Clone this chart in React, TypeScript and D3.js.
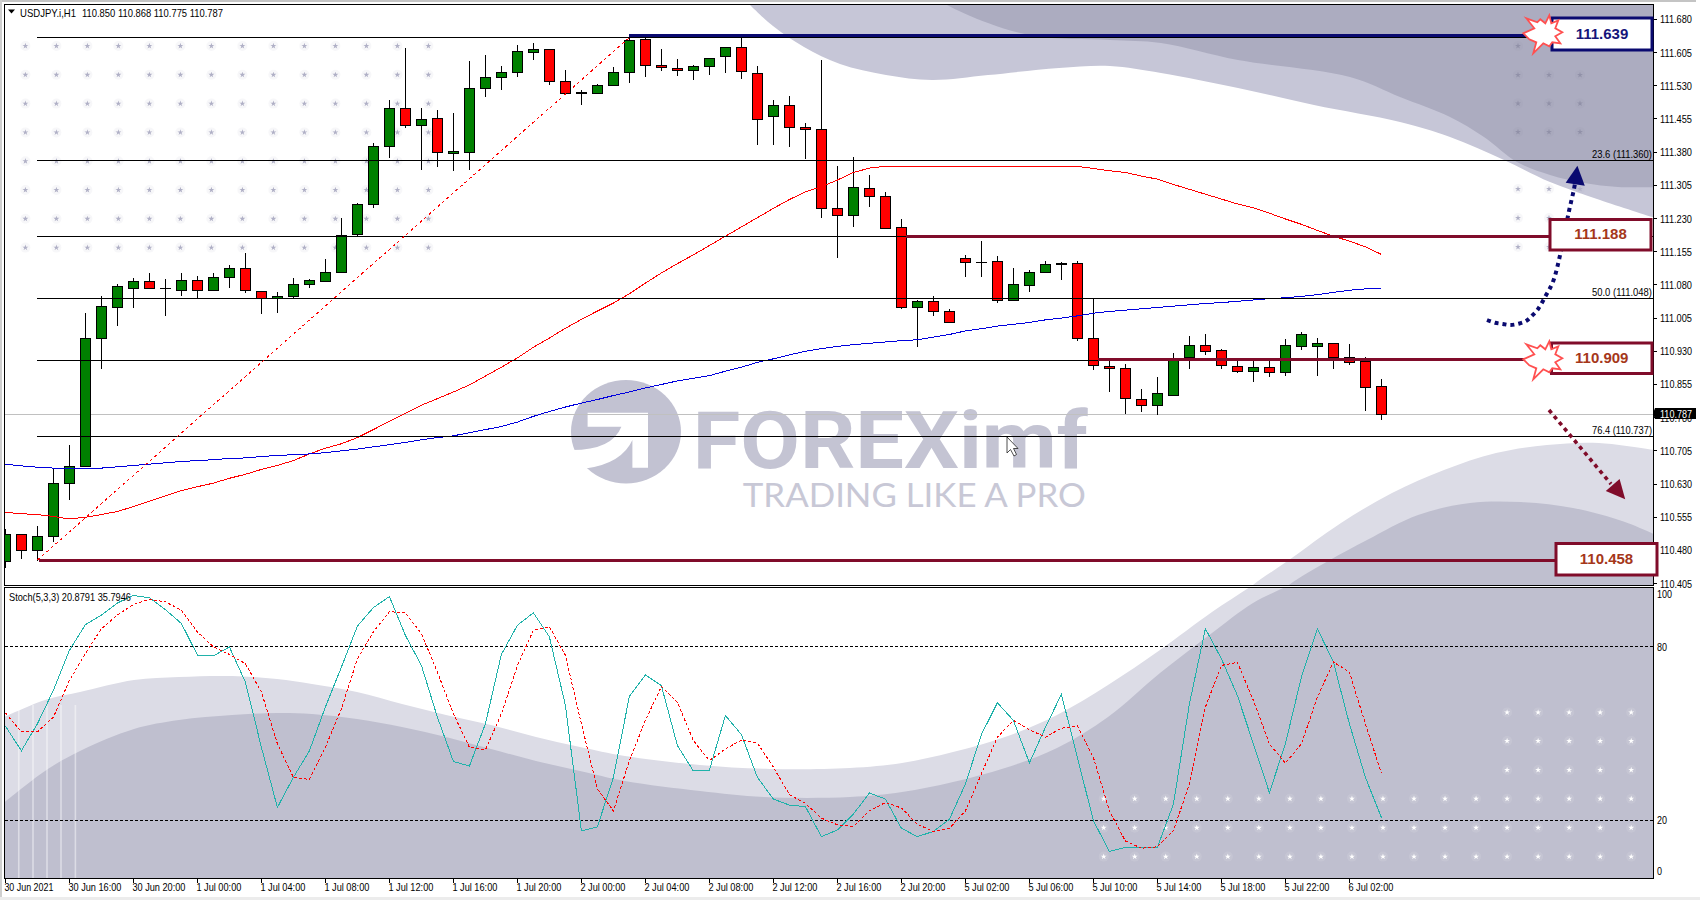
import React from "react";
import * as d3 from "d3";

// ---- data ----
const opens = [110.454,110.515,110.479,110.512,110.632,110.670,110.960,111.030,111.073,111.087,
111.072,111.068,111.090,111.068,111.096,111.117,111.065,111.049,111.053,111.080,
111.087,111.107,111.193,111.261,111.393,111.479,111.440,111.456,111.378,111.379,
111.524,111.549,111.560,111.605,111.612,111.540,111.513,111.513,111.530,111.560,
111.635,111.576,111.569,111.565,111.573,111.596,111.617,111.558,111.460,111.486,
111.435,111.431,111.252,111.236,111.297,111.279,111.210,111.030,111.042,111.019,
111.139,111.131,111.132,111.044,111.078,111.109,111.125,111.128,110.960,110.895,
110.890,110.822,110.807,110.831,110.915,110.942,110.931,110.895,110.885,110.893,
110.881,110.940,110.941,110.947,110.915,110.906,110.850];
const highs = [110.529,110.515,110.536,110.666,110.719,111.016,111.056,111.081,111.096,111.108,
111.093,111.108,111.099,111.108,111.126,111.152,111.065,111.063,111.095,111.094,
111.138,111.231,111.264,111.400,111.497,111.615,111.479,111.475,111.469,111.586,
111.600,111.575,111.622,111.627,111.614,111.566,111.520,111.534,111.572,111.639,
111.639,111.613,111.590,111.577,111.592,111.617,111.639,111.574,111.497,111.507,
111.446,111.589,111.348,111.368,111.328,111.290,111.228,111.047,111.056,111.026,
111.147,111.179,111.145,111.118,111.113,111.133,111.131,111.133,111.049,110.908,
110.901,110.844,110.871,110.925,110.964,110.969,110.936,110.911,110.908,110.908,
110.957,110.973,110.961,110.947,110.947,110.918,110.868];
const lows = [110.440,110.460,110.457,110.498,110.595,110.668,110.891,110.987,111.027,111.073,
111.009,111.054,111.049,111.068,111.074,111.062,111.014,111.016,111.050,111.074,
111.087,111.107,111.189,111.254,111.366,111.435,111.339,111.346,111.337,111.339,
111.504,111.521,111.549,111.589,111.532,111.511,111.486,111.512,111.530,111.536,
111.549,111.564,111.552,111.543,111.555,111.560,111.545,111.396,111.396,111.392,
111.364,111.232,111.140,111.211,111.256,111.207,111.026,110.940,111.009,110.996,
111.097,111.097,111.039,111.043,111.063,111.109,111.090,110.953,110.888,110.837,
110.789,110.792,110.785,110.831,110.891,110.922,110.889,110.881,110.861,110.871,
110.874,110.932,110.875,110.889,110.900,110.796,110.775];
const closes = [110.515,110.479,110.512,110.632,110.669,110.960,111.031,111.076,111.087,111.073,
111.073,111.090,111.067,111.096,111.117,111.068,111.049,111.053,111.080,111.090,
111.107,111.191,111.262,111.393,111.479,111.440,111.454,111.379,111.382,111.524,
111.549,111.560,111.607,111.612,111.540,111.513,111.515,111.531,111.560,111.633,
111.576,111.571,111.564,111.574,111.592,111.617,111.562,111.453,111.486,111.435,
111.431,111.252,111.237,111.300,111.279,111.207,111.030,111.042,111.019,110.996,
111.130,111.130,111.044,111.080,111.107,111.125,111.128,110.960,110.897,110.890,
110.824,110.807,110.834,110.914,110.942,110.929,110.897,110.885,110.893,110.881,
110.942,110.967,110.947,110.915,110.904,110.849,110.787];
const redMA = [110.566,110.563,110.561,110.557,110.551,110.555,110.561,110.568,110.579,110.591,
110.603,110.615,110.624,110.632,110.643,110.652,110.663,110.672,110.683,110.698,
110.711,110.721,110.735,110.753,110.772,110.790,110.808,110.823,110.838,110.854,
110.874,110.894,110.915,110.939,110.960,110.982,111.002,111.021,111.039,111.060,
111.084,111.107,111.128,111.148,111.169,111.190,111.211,111.232,111.253,111.273,
111.290,111.302,111.317,111.334,111.344,111.348,111.348,111.348,111.347,111.347,
111.347,111.348,111.347,111.347,111.347,111.348,111.348,111.348,111.343,111.338,
111.334,111.326,111.319,111.307,111.296,111.285,111.274,111.263,111.254,111.242,
111.229,111.217,111.203,111.190,111.179,111.166,111.149];
const blueMA = [110.675,110.671,110.668,110.666,110.664,110.665,110.666,110.669,110.672,110.675,
110.678,110.681,110.683,110.685,110.688,110.689,110.692,110.695,110.696,110.698,
110.701,110.705,110.709,110.714,110.719,110.724,110.730,110.735,110.739,110.746,
110.753,110.760,110.770,110.783,110.794,110.804,110.813,110.821,110.830,110.838,
110.847,110.855,110.863,110.869,110.875,110.885,110.894,110.905,110.913,110.922,
110.930,110.936,110.941,110.945,110.948,110.951,110.954,110.956,110.962,110.968,
110.976,110.981,110.987,110.991,110.995,111.001,111.005,111.010,111.016,111.020,
111.023,111.026,111.029,111.032,111.035,111.038,111.040,111.043,111.046,111.049,
111.051,111.054,111.058,111.063,111.068,111.071,111.073];
const stochMain = [52.5,44.0,53.3,64.9,78.7,87.6,90.9,95.1,97.7,96.9,92.8,88.0,77.1,76.8,79.9,67.7,45.2,24.4,34.8,44.0,
59.1,72.9,87.1,93.5,97.3,83.9,73.5,55.6,40.3,38.7,53.3,77.3,87.4,91.7,83.4,59.7,16.3,17.7,34.8,62.8,70.2,66.5,45.8,37.0,
37.3,56.2,49.6,34.8,27.3,25.2,24.7,14.3,16.6,22.1,29.4,27.3,17.2,14.3,16.1,20.3,32.5,49.6,60.6,54.5,39.8,52.1,63.5,41.7,
19.8,9.2,10.6,10.6,10.6,25.5,60.2,86.2,75.8,63.1,46.4,29.5,46.4,69.5,86.2,74.7,53.3,34.8,20.9];
const stochSignal = [57.1,50.5,50.5,55.6,68.3,77.6,86.2,90.9,94.6,96.4,95.5,92.6,85.1,79.9,77.3,74.1,64.3,46.4,34.8,34.1,
45.2,58.5,75.8,85.1,92.1,91.7,84.5,71.2,56.8,45.2,44.3,56.8,73.5,85.7,86.8,77.0,53.3,30.8,23.2,40.6,54.5,66.2,60.8,47.5,
40.6,44.6,47.7,46.7,38.3,28.8,25.8,20.7,18.4,17.8,23.2,26.1,24.2,18.6,16.1,17.2,23.2,36.0,48.7,54.5,51.3,48.7,51.8,52.6,
41.7,23.2,12.8,10.3,10.8,16.3,32.5,59.1,73.5,74.6,61.4,46.4,39.7,46.4,62.5,74.7,71.2,53.3,36.2];
const fibLevels = [111.639, 111.360, 111.188, 111.048, 110.909, 110.737];
const fibLabels = [{ level: 111.360, text: "23.6 (111.360)" }, { level: 111.048, text: "50.0 (111.048)" }, { level: 110.737, text: "76.4 (110.737)" }];
const priceTicks = d3.range(0, 18).map((k) => +(111.68 - k * 0.075).toFixed(3));
const stochTicks = [100, 80, 20, 0];
const timeLabels = ["30 Jun 2021","30 Jun 16:00","30 Jun 20:00","1 Jul 00:00","1 Jul 04:00","1 Jul 08:00","1 Jul 12:00","1 Jul 16:00","1 Jul 20:00","2 Jul 00:00","2 Jul 04:00","2 Jul 08:00","2 Jul 12:00","2 Jul 16:00","2 Jul 20:00","5 Jul 02:00","5 Jul 06:00","5 Jul 10:00","5 Jul 14:00","5 Jul 18:00","5 Jul 22:00","6 Jul 02:00"];

// ---- decorative artwork (pixel outlines of the template background) ----
type P = [number, number];
const topLight: P[] = [[745,0],[750,5],[773,26],[804,47],[840,64],[886,75],[932,80],[988,75],[1059,68],[1110,66],[1161,73],[1238,88],[1314,105],[1400,122],[1450,137],[1504,160],[1550,182],[1600,200],[1652,217]];
const topDark: P[] = [[940,0],[947,5],[988,23],[1034,36],[1110,40],[1161,43],[1238,60],[1350,77],[1400,97],[1450,117],[1484,137],[1517,162],[1550,175],[1584,183],[1618,187],[1660,187]];
const lowLight: P[] = [[1241,596],[1253,585],[1289,560],[1341,523],[1392,493],[1444,470],[1496,453],[1547,445],[1599,443],[1660,451]];
const lowDark: P[] = [[1275,598],[1289,585],[1330,560],[1367,540],[1418,515],[1470,503],[1521,502],[1573,508],[1625,522],[1660,537]];
const stochLight: P[] = [[0,719],[45,700],[80,692],[134,680],[179,677],[232,676],[277,679],[312,684],[357,692],[402,704],[446,715],[491,725],[536,737],[580,747],[625,756],[700,765],[770,769],[850,768],[902,763],[953,752],[1005,737],[1057,715],[1108,685],[1160,650],[1212,612],[1253,585],[1280,566]];
const stochDark: P[] = [[0,806],[45,771],[80,751],[134,729],[179,720],[232,715],[277,713],[312,714],[357,719],[402,727],[446,737],[491,749],[536,761],[580,771],[625,781],[700,791],[764,797],[850,797],[902,792],[953,782],[1005,768],[1057,748],[1108,717],[1160,673],[1212,633],[1253,603],[1289,585],[1310,572]];
const navyArrow: P[] = [[1487,320],[1495,322.7],[1503,324],[1510.5,325],[1518.6,323.7],[1526,321],[1532,315.7],[1537.6,309.7],[1545.6,296],[1553,281.7],[1561,251],[1569,211],[1574,189],[1576,177]];
const starOutline: P[] = [[-20,0],[-9,-5],[-17,-15],[-6,-11],[-3,-14],[2,-10],[6,-18],[8,-10],[15,-13],[12,-5],[19,-1],[12,3],[17,10],[9,9],[6,13],[0,10],[-10,20],[-7,9],[-14,6]];

const x = d3.scaleLinear().domain([0, 86]).range([5.4, 1381.4]);
const y = d3.scaleLinear().domain([111.68, 110.405]).range([19.4, 583.6]);
const ys = d3.scaleLinear().domain([100, 0]).range([588.8, 878]);
const L = 4.5, R = 1653, MT = 4.5, MB = 585.5, ST = 587.5, SB = 878.5;
const FONT = "'Liberation Sans', Arial, sans-serif";

const T = ({ x, y, len, size = 11, anchor, fill = "#000", weight, children }: any) => (
  <text x={x} y={y} fontFamily={FONT} fontSize={size} fill={fill} fontWeight={weight} textAnchor={anchor} dominantBaseline="central" textLength={len} lengthAdjust={len ? "spacingAndGlyphs" : undefined}>{children}</text>
);

const edge = d3.line<P>().curve(d3.curveCatmullRom.alpha(0.5));
const closeTop = (pts: P[]) => edge(pts) + `L1660,${pts[pts.length - 1][1]}L1660,0L${pts[0][0]},0Z`;
const closeBottom = (pts: P[]) => edge(pts) + `L1660,${pts[pts.length - 1][1]}L1660,885L${pts[0][0]},885Z`;
const closeStoch = (pts: P[]) => edge(pts) + `L1660,560L1660,885L0,885Z`;

const seriesLine = (vals: number[], sc: d3.ScaleLinear<number, number>) =>
  d3.line<number>().x((_, i) => x(i)).y((v) => sc(v))(vals) as string;

const Star = ({ cx, cy }: { cx: number; cy: number }) => (
  <polygon points={starOutline.map(([a, b]) => `${cx + a},${cy + b}`).join(" ")} fill="#fff" stroke="#ff5050" strokeWidth={1.8} />
);

const Box = ({ x0, x1, y0, y1, stroke, color, label }: any) => (
  <g>
    <rect x={x0} y={y0} width={x1 - x0} height={y1 - y0} fill="#fff" stroke={stroke} strokeWidth={3} />
    <text x={(x0 + x1) / 2} y={(y0 + y1) / 2 - 1} fontFamily={FONT} fontSize={15} fontWeight={700} fill={color} textAnchor="middle" dominantBaseline="central">{label}</text>
  </g>
);

const Dots = ({ xs, ys: yy, fill }: { xs: number[]; ys: number[]; fill: string }) => (
  <g>
    {yy.map((b) => xs.map((a) => (
      <g key={`${a}-${b}`}>
        <circle cx={a} cy={b} r={5} fill={fill} opacity={0.1} />
        <path transform={`translate(${a},${b})`} d={d3.symbol(d3.symbolStar, 11)() as string} fill={fill} />
      </g>
    )))}
  </g>
);

export default function App() {
  const MAROON = "#800c2a";
  const NAVY = "#0a0a70";
  const leftDotX = d3.range(14).map((k) => 25.4 + k * 31);
  const leftDotY = d3.range(8).map((k) => 46 + k * 28.8);
  const whiteX = d3.range(18).map((k) => 1103.7 + k * 31.03);
  return (
    <svg width={1700} height={900} style={{ position: "absolute", left: 0, top: 0, display: "block", background: "#fff" }}>
      <defs>
        <clipPath id="mainClip"><rect x={L} y={MT} width={R - L} height={MB - MT} /></clipPath>
        <clipPath id="stochClip"><rect x={L} y={ST} width={R - L} height={SB - ST} /></clipPath>
      </defs>
      <rect x={0} y={0} width={1696} height={2} fill="#c4c4c4" />
      <rect x={0} y={0} width={2} height={898} fill="#cfcfcf" />
      <rect x={0} y={897} width={1700} height={3} fill="#ececec" />

      <g clipPath="url(#mainClip)">
        <path d={closeTop(topLight)} fill="#c6c6d7" />
        <path d={closeTop(topDark)} fill="#acacc0" />
        <path d={closeBottom(lowLight)} fill="#dcdce6" />
        <path d={closeBottom(lowDark)} fill="#bfbfcf" />

        <Dots xs={leftDotX} ys={leftDotY} fill="#b0b0c6" />
        <Dots xs={[1518]} ys={[46]} fill="#9191a8" />
        <Dots xs={[1518, 1549, 1580]} ys={[75, 103.5, 132]} fill="#9191a8" />
        <Dots xs={[1518, 1549, 1580]} ys={[189]} fill="#b0b0c6" />
        <Dots xs={[1518, 1549]} ys={[218, 247]} fill="#b0b0c6" />

        <ellipse cx={626} cy={431.7} rx={55} ry={51.7} fill="#c2c2d2" />
        <path d="M587.6,412.7H648V467.7H632.4V440Q622,463 587,468.3L560,480V450H572Q612,450 621.4,426.7H587.6Z" fill="#fff" />
        <text x={692.8} y={468.3} fontFamily="Roboto, sans-serif" fontWeight={700} fontSize={80} fill="#c4c4d3" textLength={395} lengthAdjust="spacingAndGlyphs">FOREXimf</text>
        <text x={742.8} y={506.7} fontFamily="Lato, sans-serif" fontWeight={400} fontSize={32} fill="#c8c8d6" textLength={343} lengthAdjust="spacingAndGlyphs">TRADING LIKE A PRO</text>

        <line x1={L} x2={R} y1={y(110.787)} y2={y(110.787)} stroke="#c0c0c0" shapeRendering="crispEdges" />

        {/* candles */}
        {opens.map((o, i) => {
          const c = closes[i];
          const top = y(Math.max(o, c));
          const bot = y(Math.min(o, c));
          return (
            <g key={i} shapeRendering="crispEdges">
              <line x1={x(i)} x2={x(i)} y1={y(highs[i])} y2={y(lows[i])} stroke="#000" />
              <rect x={x(i) - 5} y={top} width={10} height={Math.max(bot - top, 0.6)} fill={c >= o ? "#008000" : "#ff0000"} stroke="#000" />
            </g>
          );
        })}

        <path d={seriesLine(redMA, y)} fill="none" stroke="#ff0000" strokeWidth={1} shapeRendering="crispEdges" />
        <path d={seriesLine(blueMA, y)} fill="none" stroke="#0000dd" strokeWidth={1} shapeRendering="crispEdges" />

        {/* fibonacci object */}
        {fibLevels.map((lv) => (
          <line key={lv} x1={37} x2={R} y1={y(lv) - 0.5} y2={y(lv) - 0.5} stroke="#000" strokeWidth={1} shapeRendering="crispEdges" />
        ))}
        <line x1={x(2)} y1={y(110.458)} x2={x(39)} y2={y(111.639)} stroke="#ff0000" strokeWidth={1} strokeDasharray="3 3" shapeRendering="crispEdges" />
        {fibLabels.map((f) => (
          <T key={f.level} x={1652} y={y(f.level) - 7} size={10.5} len={60} anchor="end">{f.text}</T>
        ))}

        {/* drawn levels */}
        <line x1={x(39)} x2={1540} y1={y(111.643)} y2={y(111.643)} stroke={NAVY} strokeWidth={3} shapeRendering="crispEdges" />
        <line x1={906} x2={1551} y1={y(111.19)} y2={y(111.19)} stroke={MAROON} strokeWidth={3} shapeRendering="crispEdges" />
        <line x1={1097.5} x2={1530} y1={y(110.911)} y2={y(110.911)} stroke={MAROON} strokeWidth={3} shapeRendering="crispEdges" />
        <line x1={38.7} x2={1556} y1={y(110.457)} y2={y(110.457)} stroke={MAROON} strokeWidth={3} shapeRendering="crispEdges" />
        <line x1={37} x2={1530} y1={y(111.639) - 0.5} y2={y(111.639) - 0.5} stroke="#000" shapeRendering="crispEdges" />

        {/* mouse cursor */}
        <path d="M1007,437V453L1010.5,449.5L1014,456L1016.5,454.5L1013.5,448.5H1018Z" fill="#fff" stroke="#222" strokeWidth={0.8} />

        {/* forecast arrows */}
        <path d={edge(navyArrow) as string} fill="none" stroke={NAVY} strokeWidth={4} strokeDasharray="4 4" />
        <polygon points="1577.4,165.7 1565.7,182.7 1584.8,185.7" fill={NAVY} />
        <line x1={1549} y1={410} x2={1611} y2={484} stroke={MAROON} strokeWidth={3.6} strokeDasharray="4 3.9" />
        <polygon points="1625.2,499.3 1605.8,491 1619.6,479" fill={MAROON} />
      </g>

      <rect x={L} y={MT} width={R - L} height={MB - MT} fill="none" stroke="#000" shapeRendering="crispEdges" />

      {/* price axis */}
      {priceTicks.map((t) => (
        <g key={t}>
          <line x1={R} x2={R + 4} y1={y(t)} y2={y(t)} stroke="#000" shapeRendering="crispEdges" />
          <T x={1660} y={y(t)} len={32}>{t.toFixed(3)}</T>
        </g>
      ))}
      <rect x={1655} y={408} width={41} height={11} fill="#000" />
      <T x={1660} y={413.5} len={32} fill="#fff">110.787</T>
      <polygon points="1653,413.5 1655,408 1655,419" fill="#000" />

      {/* annotation boxes */}
      <Box x0={1552} x1={1652} y0={18} y1={50} stroke={NAVY} color="#15157a" label="111.639" />
      <Box x0={1550} x1={1651} y0={219.5} y1={250} stroke={MAROON} color="#a5371a" label="111.188" />
      <Box x0={1551.5} x1={1652} y0={343} y1={373.5} stroke={MAROON} color="#a5371a" label="110.909" />
      <Box x0={1556} x1={1657} y0={543.5} y1={575} stroke={MAROON} color="#a5371a" label="110.458" />
      <Star cx={1543.3} cy={33.3} />
      <Star cx={1543.3} cy={359.3} />

      {/* title */}
      <polygon points="8,9.5 15,9.5 11.5,13.5" fill="#000" />
      <T x={20} y={13} len={56}>USDJPY.i,H1</T>
      <T x={82} y={13} len={141}>110.850 110.868 110.775 110.787</T>

      {/* stochastic panel */}
      <g clipPath="url(#stochClip)">
        <path d={closeStoch(stochLight)} fill="#dcdce6" />
        <path d={closeStoch(stochDark)} fill="#bfbfcf" />
        {[18.75, 33, 47, 61, 75.4].map((sx) => (
          <line key={sx} x1={sx} x2={sx} y1={705} y2={SB} stroke="#fff" strokeWidth={1.6} opacity={0.45} />
        ))}
        <Dots xs={whiteX} ys={[798.7, 827.8, 856.6]} fill="#ffffff" />
        <Dots xs={whiteX.slice(13)} ys={[712.4, 741, 770]} fill="#ffffff" />
        <line x1={L} x2={R} y1={ys(80)} y2={ys(80)} stroke="#000" strokeDasharray="3 2" shapeRendering="crispEdges" />
        <line x1={L} x2={R} y1={ys(20)} y2={ys(20)} stroke="#000" strokeDasharray="3 2" shapeRendering="crispEdges" />
        <path d={seriesLine(stochMain, ys)} fill="none" stroke="#20b2aa" strokeWidth={1} shapeRendering="crispEdges" />
        <path d={seriesLine(stochSignal, ys)} fill="none" stroke="#ff0000" strokeWidth={1} strokeDasharray="3 2" shapeRendering="crispEdges" />
      </g>
      <rect x={L} y={ST} width={R - L} height={SB - ST} fill="none" stroke="#000" shapeRendering="crispEdges" />
      <T x={9} y={596.7} len={122}>Stoch(5,3,3) 20.8791 35.7946</T>
      {stochTicks.map((t) => (
        <T key={t} x={1657} y={t === 100 ? 594 : t === 0 ? 871 : ys(t)} len={t === 100 ? 15 : t === 0 ? 5 : 10}>{t}</T>
      ))}

      {/* time axis */}
      {timeLabels.map((lab, k) => {
        const tx = x(k * 4);
        const len = lab.startsWith("30") ? (lab.length === 11 ? 49 : 53) : 45;
        return (
          <g key={lab}>
            <line x1={tx} x2={tx} y1={SB} y2={SB + 4} stroke="#000" shapeRendering="crispEdges" />
            <T x={tx - 1} y={887} len={len}>{lab}</T>
          </g>
        );
      })}
    </svg>
  );
}
